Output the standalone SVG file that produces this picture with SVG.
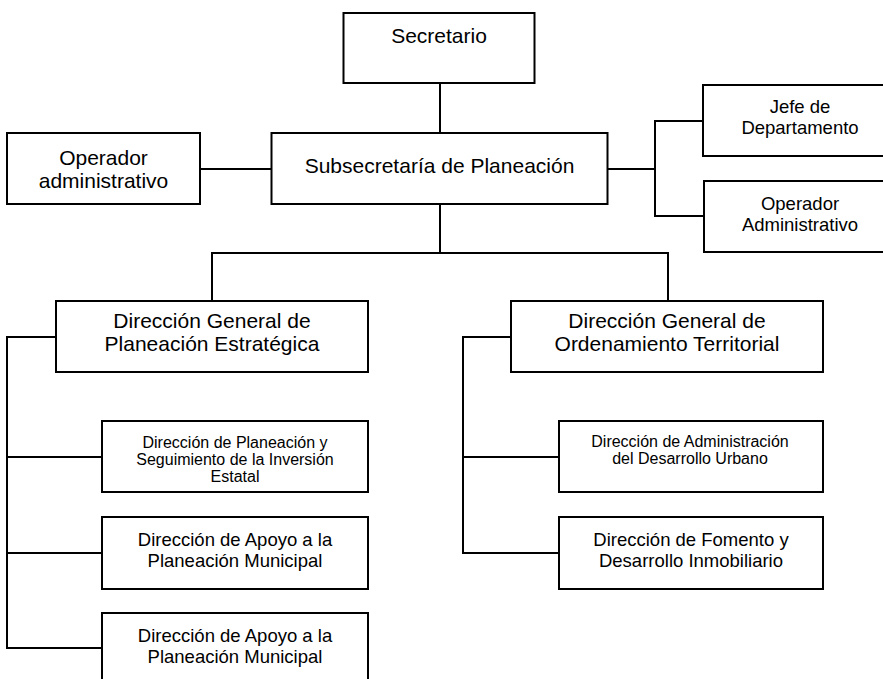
<svg xmlns="http://www.w3.org/2000/svg" width="883" height="679" viewBox="0 0 883 679">
<style>
.box{fill:#fff;stroke:#000;stroke-width:2}
.ln{fill:none;stroke:#000;stroke-width:2}
text{font-family:"Liberation Sans",Arial,sans-serif;fill:#000;text-anchor:middle}
.f21{font-size:21px}
.f18{font-size:18.5px}
.f16{font-size:16px}
</style>
<rect width="883" height="679" fill="#fff"/>
<g id="connectors">
<path class="ln" d="M440,83V133"/>
<path class="ln" d="M200,169H271.5"/>
<path class="ln" d="M607.5,169H655M703,121H655V216H704"/>
<path class="ln" d="M440,204V253M212,301V253H668V301"/>
<path class="ln" d="M56,337H7V648H102M7,457H102M7,553H102"/>
<path class="ln" d="M511,337H463V553H559M463,457H559"/>
</g>
<g id="secretario">
<rect class="box" x="343.5" y="13" width="191" height="70"/>
<text class="f21" x="439" y="43">Secretario</text>
</g>
<g id="subsecretaria">
<rect class="box" x="271.5" y="133" width="336" height="71"/>
<text class="f21" x="439.5" y="173">Subsecretaría de Planeación</text>
</g>
<g id="operador-administrativo">
<rect class="box" x="7" y="133" width="193" height="71"/>
<text class="f21" x="103.5" y="165">Operador</text>
<text class="f21" x="103.5" y="188">administrativo</text>
</g>
<g id="jefe-departamento">
<rect class="box" x="703" y="85" width="194" height="71"/>
<text class="f18" x="800" y="113">Jefe de</text>
<text class="f18" x="800" y="134">Departamento</text>
</g>
<g id="operador-administrativo-2">
<rect class="box" x="704" y="181" width="194" height="71"/>
<text class="f18" x="800" y="210">Operador</text>
<text class="f18" x="800" y="231">Administrativo</text>
</g>
<g id="dg-planeacion">
<rect class="box" x="56" y="301" width="312" height="71"/>
<text class="f21" x="212" y="328">Dirección General de</text>
<text class="f21" x="212" y="351">Planeación Estratégica</text>
</g>
<g id="dg-ordenamiento">
<rect class="box" x="511" y="301" width="312" height="71"/>
<text class="f21" x="667" y="328">Dirección General de</text>
<text class="f21" x="667" y="351">Ordenamiento Territorial</text>
</g>
<g id="d-seguimiento">
<rect class="box" x="102" y="421" width="266" height="71"/>
<text class="f16" x="235" y="448">Dirección de Planeación y</text>
<text class="f16" x="235" y="465">Seguimiento de la Inversión</text>
<text class="f16" x="235" y="482">Estatal</text>
</g>
<g id="d-apoyo-1">
<rect class="box" x="102" y="517" width="266" height="72"/>
<text class="f18" x="235" y="546">Dirección de Apoyo a la</text>
<text class="f18" x="235" y="567">Planeación Municipal</text>
</g>
<g id="d-apoyo-2">
<rect class="box" x="102" y="613" width="266" height="72"/>
<text class="f18" x="235" y="642">Dirección de Apoyo a la</text>
<text class="f18" x="235" y="663">Planeación Municipal</text>
</g>
<g id="d-administracion">
<rect class="box" x="559" y="421" width="264" height="71"/>
<text class="f16" x="690" y="447">Dirección de Administración</text>
<text class="f16" x="690" y="464">del Desarrollo Urbano</text>
</g>
<g id="d-fomento">
<rect class="box" x="559" y="517" width="264" height="72"/>
<text class="f18" x="691" y="546">Dirección de Fomento y</text>
<text class="f18" x="691" y="567">Desarrollo Inmobiliario</text>
</g>
</svg>
